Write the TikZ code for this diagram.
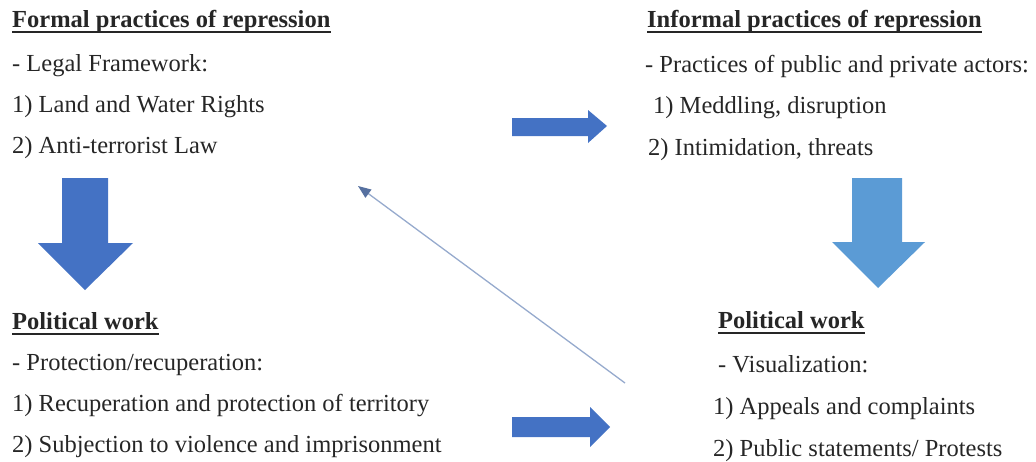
\documentclass[tikz,border=0pt]{standalone}
\usepackage{fontspec}
\setmainfont{Liberation Serif}
\usetikzlibrary{arrows.meta}
\definecolor{arrowdark}{RGB}{68,114,196}
\definecolor{arrowlight}{RGB}{91,155,213}
\definecolor{linkline}{RGB}{150,170,205}
\definecolor{linkhead}{RGB}{86,112,160}
\definecolor{inkgray}{RGB}{38,38,38}
\tikzset{
  heading/.style={anchor=base west, inner sep=0pt, text=inkgray,
    font=\fontsize{24.5}{41}\selectfont\bfseries},
  itemlist/.style={anchor=base west, inner sep=0pt, align=left, text=inkgray,
    font=\fontsize{24.5}{41}\selectfont},
  headline/.style={draw=inkgray, line width=1.6pt},
  linkarrow/.style={draw=linkline, line width=1.3pt,
    -{Triangle[length=13pt,width=10pt,color=linkhead]}},
}
\begin{document}
\begin{tikzpicture}[x=1pt, y=-1pt]
\useasboundingbox (0,0) rectangle (1036,461);
% Formal practices (top left), lists are anchored at their last baseline
\node [heading] (formalHead) at (12,27) {Formal practices of repression};
\draw [headline] ([yshift=-5pt]formalHead.base west) -- ([yshift=-5pt]formalHead.base east);
\node [itemlist] (formalList) at (12,153) {- Legal Framework:\\1) Land and Water Rights\\2) Anti-terrorist Law};
% Informal practices (top right)
\node [heading] (informalHead) at (647,27) {Informal practices of repression};
\draw [headline] ([yshift=-5pt]informalHead.base west) -- ([yshift=-5pt]informalHead.base east);
\node [itemlist, font=\fontsize{24.5}{41.5}\selectfont] (informalList) at (645,155) {- Practices of public and private actors:\\\hspace*{8pt}1) Meddling, disruption\\\hspace*{3pt}2) Intimidation, threats};
% Political work (bottom left)
\node [heading] (workLeftHead) at (12,329) {Political work};
\draw [headline] ([yshift=-5pt]workLeftHead.base west) -- ([yshift=-5pt]workLeftHead.base east);
\node [itemlist] (workLeftList) at (12,452) {- Protection/recuperation:\\1) Recuperation and protection of territory\\2) Subjection to violence and imprisonment};
% Political work (bottom right)
\node [heading] (workRightHead) at (718,328) {Political work};
\draw [headline] ([yshift=-5pt]workRightHead.base west) -- ([yshift=-5pt]workRightHead.base east);
\node [itemlist, font=\fontsize{24.5}{42}\selectfont] (workRightList) at (713,456) {\hspace*{5pt}- Visualization:\\1) Appeals and complaints\\2) Public statements/ Protests};
% Block arrows
\fill [arrowdark] (62,178) -- (108,178) -- (108,243) -- (133,243) -- (85,290) -- (38,243) -- (62,243) -- cycle;
\fill [arrowlight] (852,178) -- (902,178) -- (902,242) -- (925,242) -- (878,288) -- (832,242) -- (852,242) -- cycle;
\fill [arrowdark] (512,118) -- (588,118) -- (588,110) -- (607,126) -- (588,143) -- (588,136) -- (512,136) -- cycle;
\fill [arrowdark] (512,417) -- (590,417) -- (590,407) -- (610,427) -- (590,447) -- (590,437) -- (512,437) -- cycle;
% Thin return arrow
\coordinate (linkStart) at (625,383);
\coordinate (linkEnd) at (358,186);
\draw [linkarrow] (linkStart) -- (linkEnd);
\end{tikzpicture}
\end{document}
